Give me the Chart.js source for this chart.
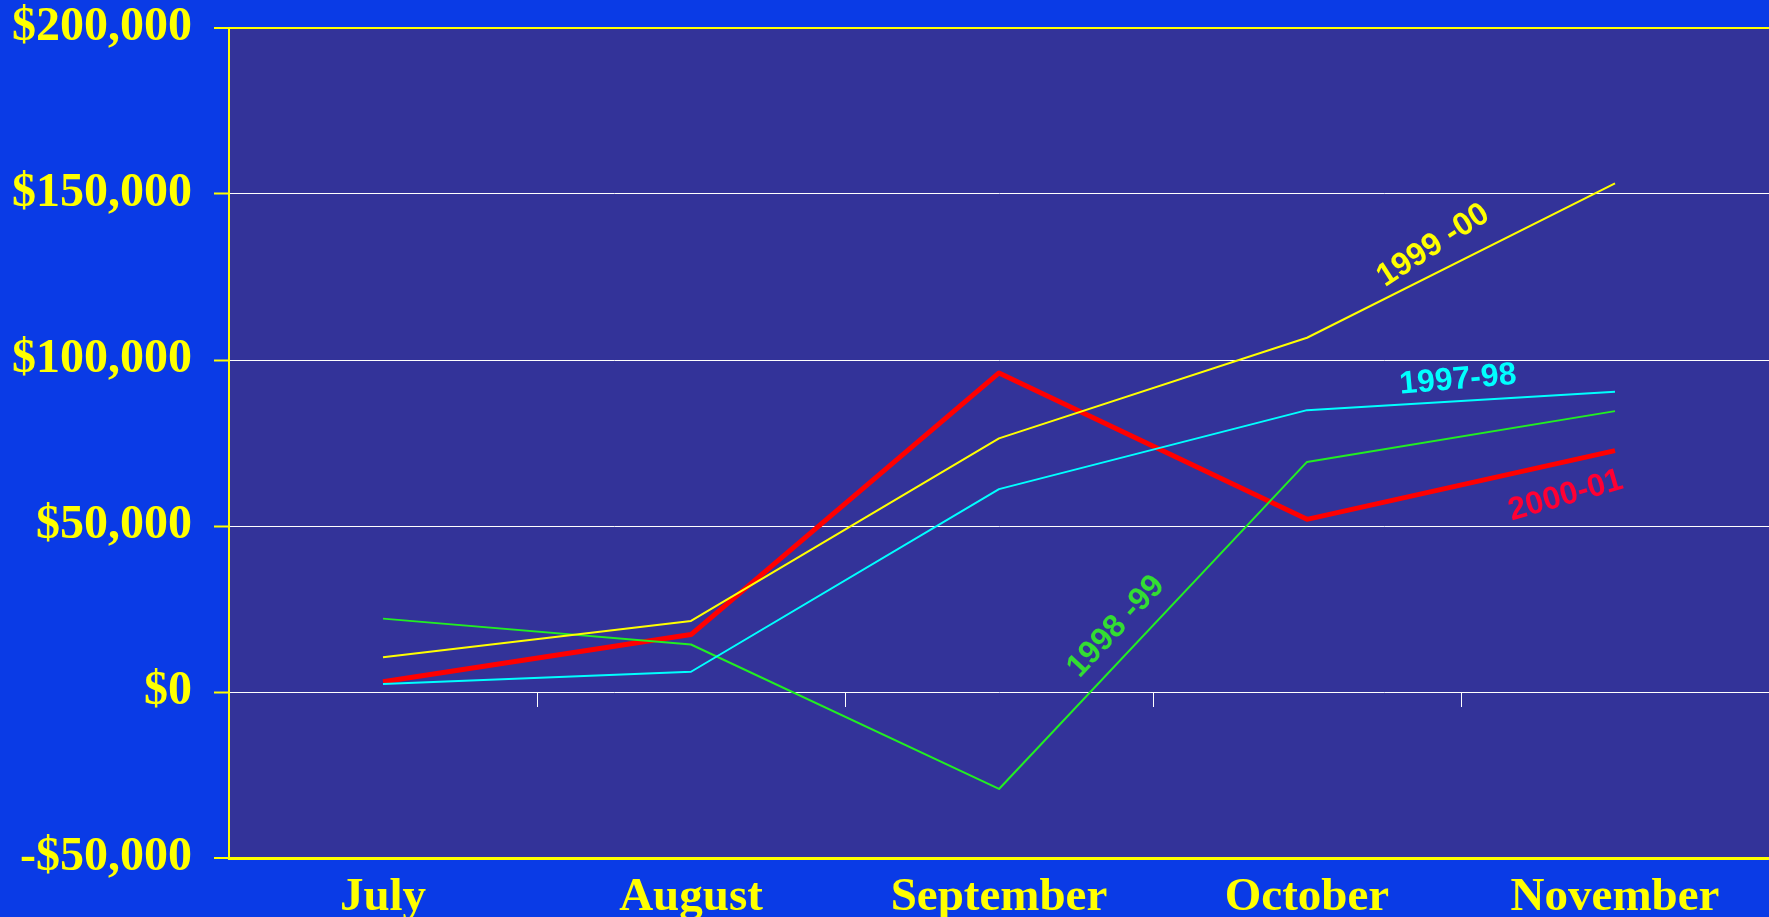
<!DOCTYPE html>
<html><head><meta charset="utf-8">
<script src="https://cdn.jsdelivr.net/npm/chart.js@4/dist/chart.umd.min.js"></script>
<style>html,body{margin:0;padding:0;background:#0A3BE6;overflow:hidden}</style>
</head><body>
<canvas id="c" width="1769" height="917"></canvas>
<script>
const months = ['July', 'August', 'September', 'October', 'November'];
const s1997_98 = [2400, 6100, 61100, 84900, 90400];
const s1998_99 = [22100, 14300, -29200, 69300, 84600];
const s1999_00 = [10500, 21400, 76400, 106700, 153200];
const s2000_01 = [3100, 17300, 96100, 52000, 72700];
const yMin = -50000, yMax = 200000, yStep = 50000;
const seriesNames = ['1997-98', '1998 -99', '1999 -00', '2000-01'];

// in-plot series labels, anchored in data coordinates (category index, value)
const labelX = [3.49, 2.38, 3.41, 3.84];
const labelY = [94000, 19700, 134500, 59100];
const labelAngle = [-5, -47, -33, -16];
const labelColor = ['#00FFFF', '#33DD33', '#FFFF00', '#FF0033'];

const OUTER = '#0A3BE6', PLOT = '#333399', YEL = '#FFFF00';

const bgPlugin = {
  id: 'bg',
  beforeDraw(chart) {
    const {ctx, chartArea: a} = chart;
    ctx.save();
    ctx.fillStyle = OUTER;
    ctx.fillRect(0, 0, chart.width, chart.height);
    ctx.fillStyle = PLOT;
    ctx.fillRect(a.left, a.top, a.right - a.left, a.bottom - a.top);
    ctx.restore();
  }
};

const labelPlugin = {
  id: 'seriesLabels',
  afterDatasetsDraw(chart) {
    const {ctx} = chart;
    const xs = chart.scales.x, ys = chart.scales.y;
    ctx.save();
    ctx.font = 'bold 32px "Liberation Sans", Arial, sans-serif';
    ctx.textAlign = 'center';
    ctx.textBaseline = 'middle';
    seriesNames.forEach((n, i) => {
      ctx.save();
      ctx.translate(xs.getPixelForValue(labelX[i]), ys.getPixelForValue(labelY[i]));
      ctx.rotate(labelAngle[i] * Math.PI / 180);
      ctx.fillStyle = labelColor[i];
      ctx.fillText(n, 0, 0);
      ctx.restore();
    });
    ctx.restore();
  }
};

function money(v) {
  const s = '$' + Math.abs(v).toLocaleString('en-US');
  return v < 0 ? '-' + s : s;
}

const isEdge = (c) => c.tick && (c.tick.value === yMax || c.tick.value === yMin);

new Chart(document.getElementById('c'), {
  type: 'line',
  data: {
    labels: months,
    datasets: [
      {label: seriesNames[3], data: s2000_01, borderColor: '#FF0000', borderWidth: 5, order: 4},
      {label: seriesNames[1], data: s1998_99, borderColor: '#22EE22', borderWidth: 2, order: 3},
      {label: seriesNames[0], data: s1997_98, borderColor: '#00FFFF', borderWidth: 2, order: 2},
      {label: seriesNames[2], data: s1999_00, borderColor: '#FFFF00', borderWidth: 2, order: 1}
    ]
  },
  options: {
    responsive: false,
    animation: false,
    devicePixelRatio: 1,
    elements: {point: {radius: 0, hoverRadius: 0}, line: {tension: 0, borderJoinStyle: 'round'}},
    layout: {padding: {left: 0, right: 0, top: 0, bottom: 0}},
    plugins: {legend: {display: false}, tooltip: {enabled: false}},
    scales: {
      x: {
        type: 'category',
        position: 'bottom',
        offset: true,
        grid: {display: false, drawTicks: false},
        border: {display: true, color: YEL, width: 3},
        ticks: {
          color: YEL,
          padding: 12,
          maxRotation: 0,
          autoSkip: false,
          font: {family: '"Liberation Serif", "Times New Roman", serif', weight: 'bold', size: 47}
        },
        afterFit(s) { s.height = 59; s.paddingLeft = 0; s.paddingRight = 0; }
      },
      x2: {
        type: 'category',
        position: {y: 0},
        offset: true,
        grid: {display: true, drawOnChartArea: false, drawTicks: true, tickLength: 15, color: '#FFFFFF', lineWidth: 1, offset: true},
        border: {display: false},
        ticks: {display: false}
      },
      y: {
        type: 'linear',
        position: 'left',
        min: yMin,
        max: yMax,
        grid: {
          color: (c) => isEdge(c) ? YEL : '#FFFFFF',
          lineWidth: (c) => isEdge(c) ? 2 : 1,
          tickColor: YEL,
          tickWidth: 2,
          tickLength: 15,
          drawTicks: true
        },
        border: {display: true, color: YEL, width: 2},
        ticks: {
          stepSize: yStep,
          color: YEL,
          padding: 22,
          callback: (v) => money(v),
          font: {family: '"Liberation Serif", "Times New Roman", serif', weight: 'bold', size: 48}
        },
        afterFit(s) { s.width = 229; s.paddingTop = 28; s.paddingBottom = 0; }
      }
    }
  },
  plugins: [bgPlugin, labelPlugin]
});
</script>
</body></html>
